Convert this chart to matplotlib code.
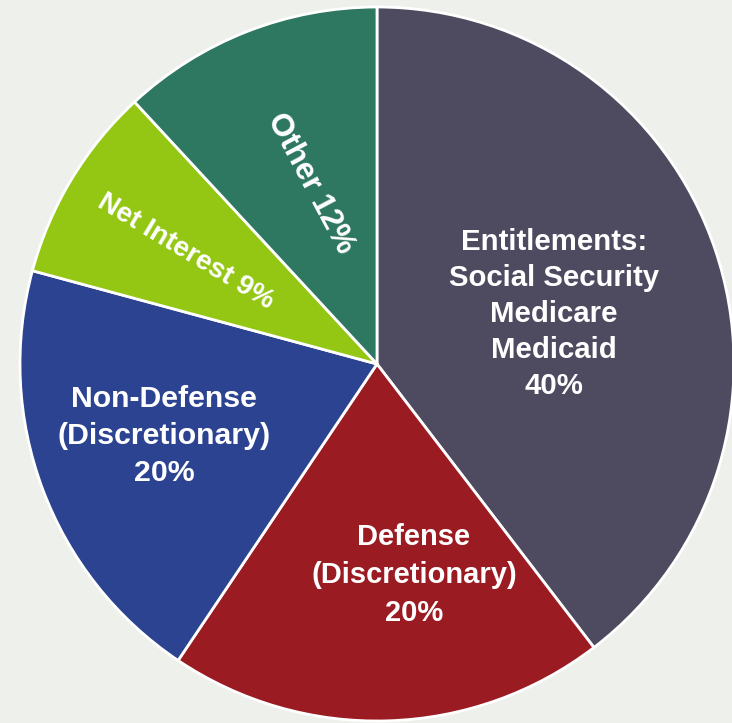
import matplotlib
matplotlib.use("Agg")
import matplotlib.pyplot as plt

categories = ["Entitlements", "Defense", "Non-Defense", "Net Interest", "Other"]
values = [40, 20, 20, 9, 12]
labels = ["Entitlements:\nSocial Security\nMedicare\nMedicaid\n40%",
          "Defense\n(Discretionary)\n20%",
          "Non-Defense\n(Discretionary)\n20%",
          "Net Interest 9%",
          "Other 12%"]
colors = ["#4E4B61", "#9B1B22", "#2B4390", "#93C714", "#2E7761"]

W, H = 732, 723
fig = plt.figure(figsize=(W / 100, H / 100), dpi=100, facecolor="#EEF0EB")
ax = fig.add_axes([0, 0, 1, 1])
ax.set_facecolor("#EEF0EB")

cx, cy, r = 377, H - 364, 357
ax.pie(values, colors=colors, startangle=90, counterclock=False,
       center=(cx, cy), radius=r, frame=True,
       wedgeprops=dict(edgecolor="white", linewidth=2))
ax.set_aspect("equal")
ax.set_xlim(0, W)
ax.set_ylim(0, H)
ax.axis("off")

font = "Liberation Sans"
# label placements (pixel coords, from top-left)
placements = [
    (554, 314, 0, 21.2, 1.37),
    (414, 575, 0, 21, 1.46),
    (164, 436, 0, 21.8, 1.43),
    (186, 252, -31, 20, 1.2),
    (310, 184, -62, 22.5, 1.2),
]
for lab, (x, y, rot, fs, ls) in zip(labels, placements):
    ax.text(x, H - y, lab, ha="center", va="center", rotation=rot,
            rotation_mode="anchor", color="white", fontsize=fs,
            fontweight="bold", family=font, linespacing=ls)

fig.savefig("out.png", dpi=100, facecolor=fig.get_facecolor())
